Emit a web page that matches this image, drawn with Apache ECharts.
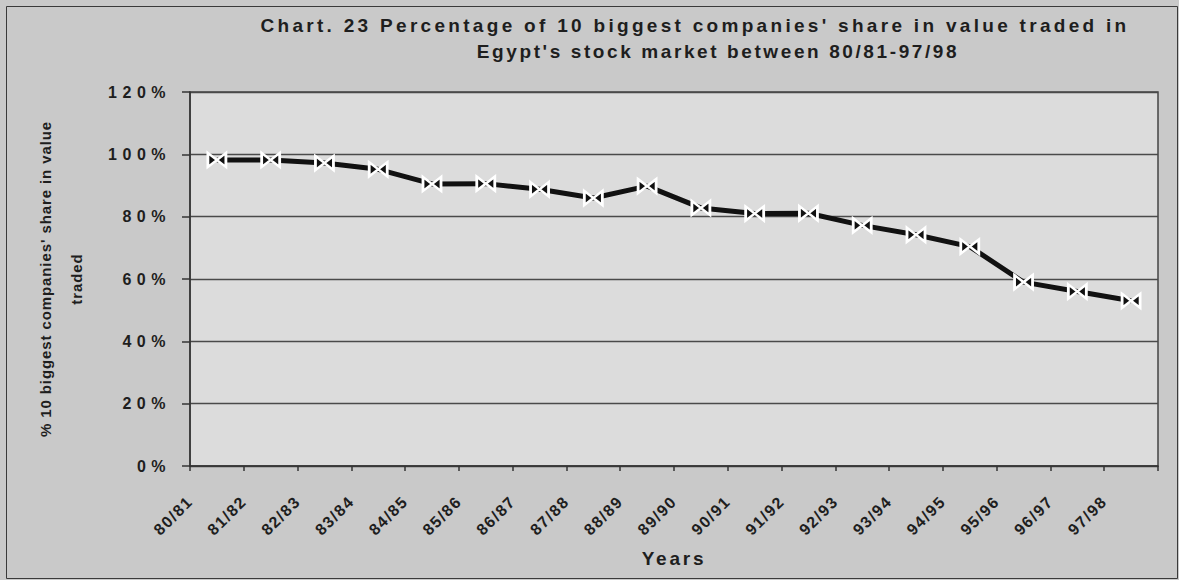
<!DOCTYPE html>
<html>
<head>
<meta charset="utf-8">
<script src="https://cdn.jsdelivr.net/npm/echarts@6/dist/echarts.min.js"></script>
<style>
  html, body { margin: 0; padding: 0; background: #c9c9c9; }
  #chart { width: 1179px; height: 580px; }
</style>
</head>
<body>
<div id="chart"></div>
<script>
// Fiscal years
const years = ['80/81','81/82','82/83','83/84','84/85','85/86','86/87','87/88','88/89',
               '89/90','90/91','91/92','92/93','93/94','94/95','95/96','96/97','97/98'];
// Share of the 10 biggest companies in value traded (%)
const topTenShare = [98.2, 98.2, 97.2, 95.2, 90.5, 90.6, 88.8, 86.0, 89.8,
                     82.8, 81.0, 81.1, 77.2, 74.2, 70.4, 59.0, 56.0, 53.0];
const yTicks = [0, 20, 40, 60, 80, 100, 120];

const titleLine1 = "Chart. 23 Percentage of 10 biggest companies' share in value traded in";
const titleLine2 = "Egypt's stock market between 80/81-97/98";
const yName = "% 10 biggest companies' share in value\ntraded";
const xName = 'Years';

const font = 'Liberation Sans';
const ink = '#1e1e1e';

const chart = echarts.init(document.getElementById('chart'), null, { renderer: 'svg' });

// wide letter spacing, applied to the SVG text once the chart is drawn
function spaceLetters() {
  document.querySelectorAll('#chart text').forEach(t => {
    const s = t.textContent.trim();
    let ls = null;
    if (s.startsWith('Chart.')) ls = '3.3px';
    else if (s.startsWith('Egypt')) ls = '2.6px';
    else if (/^\d+%$/.test(s)) ls = '5.5px';
    else if (/^\d\d\/\d\d$/.test(s)) ls = '1.5px';
    else if (s === xName) ls = '2.8px';
    else if (s.startsWith('%') || s === 'traded') ls = '0.9px';
    if (ls) t.style.letterSpacing = ls;
  });
}
chart.on('finished', spaceLetters);

chart.setOption({
  backgroundColor: '#c9c9c9',
  animation: false,
  title: [
    { text: titleLine1, left: 690, top: 11, textAlign: 'center',
      textStyle: { fontFamily: font, fontWeight: 'bold', fontSize: 19, color: ink } },
    { text: titleLine2, left: 713, top: 37, textAlign: 'center',
      textStyle: { fontFamily: font, fontWeight: 'bold', fontSize: 19, color: ink } }
  ],
  graphic: [{
    type: 'rect', left: 4, top: 4, silent: true,
    shape: { width: 1171, height: 572 },
    style: { fill: 'none', stroke: '#3a3a3a', lineWidth: 1 }
  }],
  grid: {
    left: 190, right: 21, top: 92, bottom: 114,
    outerBoundsMode: 'none', containLabel: false,
    show: true, backgroundColor: '#dcdcdc', borderColor: '#444', borderWidth: 1.5
  },
  xAxis: {
    type: 'category', data: years, boundaryGap: true,
    name: xName, nameLocation: 'middle', nameGap: 83,
    nameTextStyle: { fontFamily: font, fontWeight: 'bold', fontSize: 19, color: ink },
    axisLine: { lineStyle: { color: '#333', width: 1.5 } },
    axisTick: { show: true, length: 5, lineStyle: { color: '#333', width: 1.5 } },
    axisLabel: {
      rotate: 45, interval: 0, margin: 6, padding: [0, 38, 0, 0],
      fontFamily: font, fontWeight: 'bold', fontSize: 16, color: ink
    },
    splitLine: { show: false }
  },
  yAxis: {
    type: 'value', min: 0, max: 120, interval: 20,
    name: yName, nameLocation: 'middle', nameRotate: 90, nameGap: 98,
    nameTextStyle: { fontFamily: font, fontWeight: 'bold', fontSize: 15, color: ink, lineHeight: 31, align: 'center' },
    axisLine: { show: true, lineStyle: { color: '#333', width: 1.5 } },
    axisTick: { show: true, length: 8, lineStyle: { color: '#333', width: 1.5 } },
    axisLabel: {
      margin: 19, fontFamily: font, fontWeight: 'bold', fontSize: 16, color: ink,
      formatter: v => yTicks.includes(v) ? v + '%' : ''
    },
    splitLine: { show: true, lineStyle: { color: '#4a4a4a', width: 1.3 } }
  },
  series: [{
    type: 'line',
    data: topTenShare,
    lineStyle: { color: '#111', width: 5 },
    // bow-tie marker: dark triangles edged in white, reading as a white cross
    symbol: 'path://M0,0 L5,5 L0,10 Z M10,0 L5,5 L10,10 Z',
    symbolSize: [18, 14],
    itemStyle: { color: '#111', borderColor: '#ffffff', borderWidth: 2.5 },
    z: 5
  }]
});
spaceLetters();
</script>
</body>
</html>
